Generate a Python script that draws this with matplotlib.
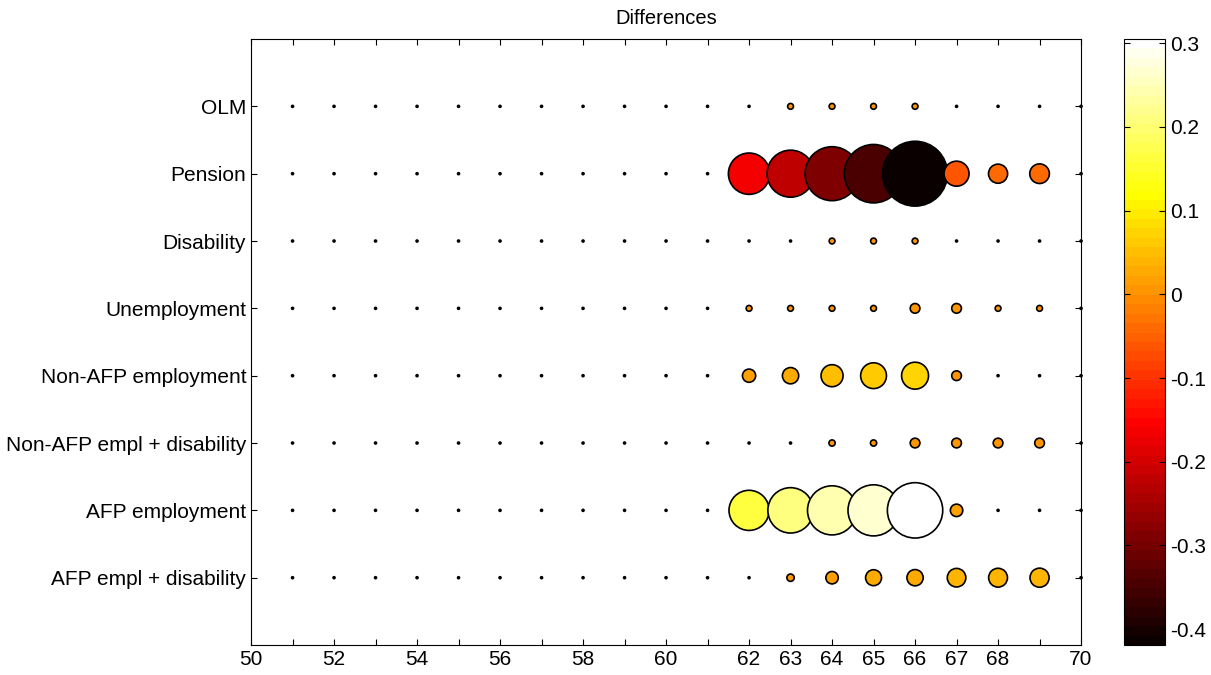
import numpy as np
import matplotlib.pyplot as plt

plt.rcParams['font.family'] = ['Liberation Sans', 'DejaVu Sans']
plt.rcParams['axes.unicode_minus'] = False

ages = list(range(51, 71))
categories = ['AFP empl + disability', 'AFP employment', 'Non-AFP empl + disability',
              'Non-AFP employment', 'Unemployment', 'Disability', 'Pension', 'OLM']

# values for ages 51..70, ages 51-61 and 70 are zero everywhere
zeros11 = [0] * 11
afp_dis = zeros11 + [0, 0.005, 0.015, 0.025, 0.026, 0.034, 0.035, 0.036, 0]
afp_emp = zeros11 + [0.16, 0.205, 0.24, 0.26, 0.305, 0.015, 0, 0, 0]
nafp_dis = zeros11 + [0, 0, 0.0035, 0.0035, 0.009, 0.009, 0.009, 0.009, 0]
nafp_emp = zeros11 + [0.017, 0.026, 0.048, 0.066, 0.072, 0.009, 0, 0, 0]
unemp = zeros11 + [0.003, 0.003, 0.003, 0.003, 0.009, 0.009, 0.003, 0.003, 0]
disab = zeros11 + [0, 0, 0.003, 0.003, 0.003, 0, 0, 0, 0]
pension = zeros11 + [-0.17, -0.22, -0.29, -0.34, -0.419, -0.062, -0.036, -0.038, 0]
olm = zeros11 + [0, 0.003, 0.003, 0.003, 0.003, 0, 0, 0, 0]

rows = [afp_dis, afp_emp, nafp_dis, nafp_emp, unemp, disab, pension, olm]

xs, ys, vals = [], [], []
for i, r in enumerate(rows):
    for a, v in zip(ages, r):
        xs.append(a)
        ys.append(i + 1)
        vals.append(v)
xs = np.array(xs)
ys = np.array(ys)
vals = np.array(vals)

cmap = plt.get_cmap('hot').resampled(64)

fig = plt.figure(figsize=(12.11, 6.75), dpi=100)
ax = fig.add_axes([0.2073, 0.0444, 0.6854, 0.8978])

sizes = 5200 * np.abs(vals) + 2
sc = ax.scatter(xs, ys, s=sizes, c=vals, cmap=cmap, vmin=vals.min(), vmax=vals.max(),
                edgecolors='black', linewidths=1.2, clip_on=False, zorder=3)

ax.set_xlim(50, 70)
ax.set_ylim(0, 9)
ax.set_xticks(range(50, 71))
shown = [50, 52, 54, 56, 58, 60, 62, 63, 64, 65, 66, 67, 68, 70]
ax.set_xticklabels([str(t) if t in shown else '' for t in range(50, 71)])
ax.set_yticks(range(1, 9))
ax.set_yticklabels(categories)
ax.tick_params(direction='in', top=True, right=True, length=4, labelsize=15, width=0.8)
for sp in ax.spines.values():
    sp.set_linewidth(0.8)
ax.set_title('Differences', fontsize=14.5, pad=11)

cax = fig.add_axes([0.9285, 0.0444, 0.0339, 0.8978])
cb = fig.colorbar(sc, cax=cax)
cb.set_ticks([-0.4, -0.3, -0.2, -0.1, 0, 0.1, 0.2, 0.3])
cb.set_ticklabels(['-0.4', '-0.3', '-0.2', '-0.1', '0', '0.1', '0.2', '0.3'])
cax.yaxis.set_ticks_position('both')
cax.tick_params(direction='in', length=4, labelsize=15, width=0.8)
cb.outline.set_linewidth(0.8)

fig.savefig('out.png', dpi=100)
